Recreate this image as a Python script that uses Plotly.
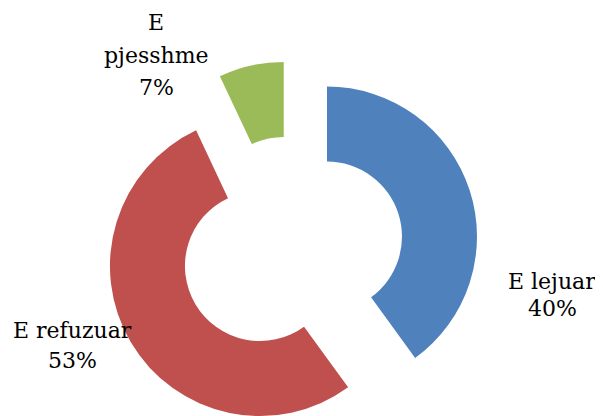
import math
import plotly.graph_objects as go

# ---- data ----
labels = ["E lejuar", "E refuzuar", "E<br>pjesshme"]
values = [40, 53, 7]
colors = ["#4F81BD", "#C0504D", "#9BBB59"]

# ---- layout / style (window pixel coords) ----
OFF = 8                    # browser default body margin
W, H = 603 - OFF, 416 - OFF
R = 150                    # outer radius (px)
HOLE = 0.5
PULL = 37                  # explode distance (px)
CX0, CY0 = 291.8, 248.0    # un-exploded centre in window px
# first-line centre (x, y) and line gap for each label
label_pos = [(552, 281, 27), (72, 330, 30), (156, 23, 32.5)]
FONT = dict(family="DejaVu Serif", size=22, color="#000000")

total = sum(values)
fig = go.Figure()
start = 0.0
for lab, v, col in zip(labels, values, colors):
    before = start
    after = total - start - v
    mid = (start + v / 2) / total * 2 * math.pi
    cx = CX0 + PULL * math.sin(mid) - OFF
    cy = CY0 - PULL * math.cos(mid) - OFF
    vals, cols = [], []
    if before > 0:
        vals.append(before); cols.append("rgba(0,0,0,0)")
    vals.append(v); cols.append(col)
    if after > 0:
        vals.append(after); cols.append("rgba(0,0,0,0)")
    y0 = (H - cy - R) / H
    y1 = (H - cy + R) / H
    shift = 0.0
    if y0 < 0:
        shift = -y0
    elif y1 > 1:
        shift = 1 - y1
    fig.add_trace(go.Pie(
        values=vals, sort=False, direction="clockwise", rotation=0,
        hole=HOLE, textinfo="none", hoverinfo="skip", showlegend=False,
        marker=dict(colors=cols, line=dict(width=0)),
        domain=dict(x=[(cx - R) / W, (cx + R) / W],
                    y=[y0 + shift, y1 + shift]),
    ))
    start += v

annotations = []
for lab, v, (lx, ly, gap) in zip(labels, values, label_pos):
    pct = round(v / total * 100)
    lines = lab.split("<br>") + [f"{pct}%"]
    for i, line in enumerate(lines):
        annotations.append(dict(
            text=line, x=(lx - OFF) / W, y=1 - (ly + i * gap - OFF) / H,
            xref="paper", yref="paper", showarrow=False,
            xanchor="center", yanchor="middle", align="center", font=FONT,
        ))

fig.update_layout(
    width=W, height=H, margin=dict(l=0, r=0, t=0, b=0),
    paper_bgcolor="white", plot_bgcolor="white",
    annotations=annotations,
)
fig.write_html("out.html")
